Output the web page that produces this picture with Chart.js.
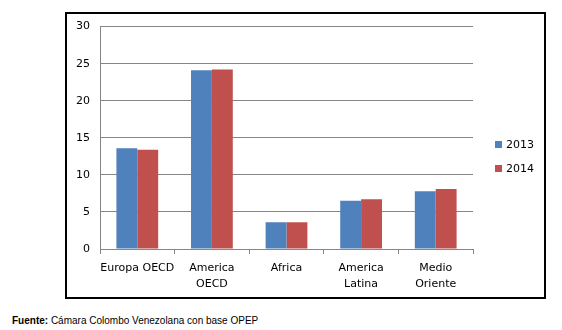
<!DOCTYPE html>
<html>
<head>
<meta charset="utf-8">
<script src="https://cdn.jsdelivr.net/npm/chart.js@4.4.1/dist/chart.umd.min.js"></script>
<style>
  html, body { margin: 0; padding: 0; background: #fff; }
  body { width: 562px; height: 330px; position: relative; overflow: hidden; }
  #frame {
    position: absolute; left: 65px; top: 12px;
    width: 477px; height: 283px;
    border: 2px solid #000;
  }
  #chart-wrap { position: absolute; left: 0; top: -4px; width: 477px; height: 287px; }
  #legend {
    position: absolute; left: 428px; top: 124px;
    font-family: 'DejaVu Sans', Verdana, sans-serif; font-size: 11px; color: #000;
  }
  #legend .item { display: flex; align-items: center; height: 12px; margin-bottom: 12px; }
  #legend .box { width: 7px; height: 7px; margin-right: 4px; }
  #source {
    position: absolute; left: 12px; top: 315px;
    font-family: 'Liberation Sans', Arial, sans-serif; font-size: 10px; color: #000;
  }
</style>
</head>
<body>
<div id="frame">
  <div id="chart-wrap"><canvas id="chart"></canvas></div>
  <div id="legend"></div>
</div>
<div id="source"><b>Fuente:</b> Cámara Colombo Venezolana con base OPEP</div>

<script>
// Data
const CATEGORIES = [['Europa OECD'], ['America', 'OECD'], ['Africa'], ['America', 'Latina'], ['Medio', 'Oriente']];
const SERIES_NAMES = ['2013', '2014'];
const VALUES_2013 = [13.6, 24.1, 3.6, 6.5, 7.8];
const VALUES_2014 = [13.4, 24.2, 3.6, 6.7, 8.1];
const COLORS = ['#4F81BD', '#C0504D'];

const FONT = "'DejaVu Sans', Verdana, sans-serif";

const datasets = [VALUES_2013, VALUES_2014].map((vals, i) => ({
  label: SERIES_NAMES[i],
  data: vals,
  backgroundColor: COLORS[i],
  borderWidth: 0,
  categoryPercentage: 0.56,
  barPercentage: 1
}));

// HTML legend built from datasets
document.getElementById('legend').innerHTML = datasets.map(d =>
  `<div class="item"><div class="box" style="background:${d.backgroundColor}"></div>${d.label}</div>`
).join('');

new Chart(document.getElementById('chart').getContext('2d'), {
  type: 'bar',
  data: { labels: CATEGORIES, datasets },
  options: {
    responsive: true,
    maintainAspectRatio: false,
    animation: false,
    layout: { padding: { top: 2, right: 71, left: 0, bottom: 0 } },
    plugins: {
      legend: { display: false },
      tooltip: { enabled: false }
    },
    scales: {
      y: {
        min: 0,
        max: 30,
        ticks: {
          stepSize: 5,
          color: '#000',
          padding: 10,
          font: { family: FONT, size: 11 }
        },
        grid: { color: '#868686', drawTicks: false },
        border: { color: '#868686' },
        afterFit: (scale) => { scale.width = 33; }
      },
      x: {
        ticks: {
          color: '#000',
          padding: 6,
          maxRotation: 0,
          minRotation: 0,
          autoSkip: false,
          font: { family: FONT, size: 11, lineHeight: 1.45 }
        },
        grid: {
          offset: true,
          drawOnChartArea: false,
          tickLength: 5,
          color: '#868686'
        },
        border: { color: '#868686' },
        afterFit: (scale) => { scale.height = 48; }
      }
    }
  }
});
</script>
</body>
</html>
